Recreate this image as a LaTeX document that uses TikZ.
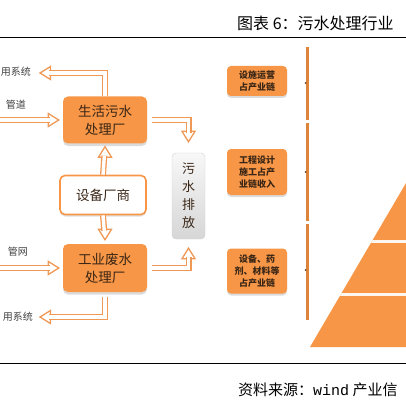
\documentclass[tikz,border=0pt]{standalone}
\usepackage{fontspec}
\setmainfont{Noto Sans CJK SC}
\newfontfamily\latinmono{Liberation Mono}
\usetikzlibrary{positioning,shadows}
\definecolor{plantorange}{RGB}{247,150,70}
\definecolor{pipeorange}{RGB}{240,152,85}
\definecolor{chainorange}{RGB}{222,132,58}
\definecolor{plantink}{RGB}{58,38,22}
\definecolor{labelink}{RGB}{64,64,64}
\tikzset{
  pics/pipehead/.style={code={
    \filldraw[draw=pipeorange,fill=white,line width=1.3pt] (0,0) -- (-10.5pt,6.5pt) -- (-10.5pt,-6.5pt) -- cycle;}}
}

\begin{document}
\begin{tikzpicture}[x=1pt, y=-1pt, every node/.style={inner sep=0pt,align=center},
  plant/.style={fill=plantorange, rounded corners=5pt, minimum width=84pt, minimum height=47pt,
    text=plantink, font=\fontsize{13.5}{18}\selectfont,
    drop shadow={shadow xshift=0pt,shadow yshift=-2.5pt,fill=black!40,opacity=.35}},
  chainbox/.style={fill=plantorange, rounded corners=4pt, minimum width=60pt,
    text=plantink, font=\fontsize{9}{12.3}\selectfont\bfseries,
    drop shadow={shadow xshift=0pt,shadow yshift=-2pt,fill=black!40,opacity=.35}},
  pipe/.style={draw=pipeorange, double=white, double distance=3.4pt, line width=1.3pt, shorten >=9pt},
  sidelabel/.style={anchor=east, text=labelink, font=\fontsize{10}{12}\selectfont}]
\useasboundingbox (0,0) rectangle (406,406);

% header and footer
\node[anchor=west, font=\fontsize{16}{17}\selectfont] (title) at (237,23) {图表 6：污水处理行业};
\draw[line width=0.9pt] (0,37) -- (406,37);
\draw[line width=0.9pt] (0,363) -- (406,363);
\node[anchor=west, font=\fontsize{15}{16}\selectfont] (source) at (238,390) {资料来源：{\latinmono wind} 产业信};

% plants, supplier and discharge
\node[plant] (lifeplant) at (105,120) {生活污水\\处理厂};
\node[plant, minimum height=48pt] (indplant) at (105,268) {工业废水\\处理厂};
\node[fill=white, draw=plantorange, line width=1.6pt, rounded corners=5pt, minimum width=86pt, minimum height=39pt,
  text=plantink, font=\fontsize{13.5}{18}\selectfont,
  drop shadow={shadow xshift=0pt,shadow yshift=-2pt,fill=black!40,opacity=.3}] (supplier) at (103,195) {设备厂商};
\node[top color=gray!6, bottom color=gray!32, draw=gray!35, rounded corners=4pt, minimum width=33pt, minimum height=86pt,
  text=plantink, font=\fontsize{13}{18}\selectfont] (discharge) at (188.5,196) {污\\水\\排\\放};

% left side labels
\node[sidelabel] (reuselabel) at (31,72) {用系统};
\node[sidelabel] (sewerlabel) at (26,105) {管道};
\node[sidelabel] (netlabel) at (28,252) {管网};
\node[sidelabel] (reuselabelb) at (33,317) {用系统};

% free ends of the pipes
\coordinate (reusetop) at (40,73);
\coordinate (reusebot) at (40,317);
\coordinate (sewerstart) at (-6,120);
\coordinate (netstart) at (-6,268);
\coordinate (sewerin) at ([xshift=-4pt]lifeplant.west);
\coordinate (netin) at ([xshift=-4pt]indplant.west);
\coordinate (lifefeed) at ([yshift=-3pt]lifeplant.south);
\coordinate (indfeed) at ([yshift=4pt]indplant.north);
\coordinate (dischargein) at ([yshift=11pt]discharge.north);
\coordinate (dischargeout) at ([yshift=-9pt]discharge.south);

% arrow heads first, pipes over them
\pic[rotate=180] at (reusetop) {pipehead};
\pic[rotate=180] at (reusebot) {pipehead};
\pic at (sewerin) {pipehead};
\pic at (netin) {pipehead};
\pic[rotate=90] at (lifefeed) {pipehead};
\pic[rotate=-90] at (indfeed) {pipehead};
\pic[rotate=-90] at (dischargein) {pipehead};
\pic[rotate=90] at (dischargeout) {pipehead};

\draw[pipe] (lifeplant.north) |- (reusetop);
\draw[pipe] (sewerstart) -- (sewerin);
\draw[pipe] ([xshift=5pt]lifeplant.east) -| (dischargein);
\draw[pipe] (supplier.north) -- (lifefeed);
\draw[pipe] (supplier.south) -- (indfeed);
\draw[pipe] (netstart) -- (netin);
\draw[pipe] ([xshift=5pt]indplant.east) -| (dischargeout);
\draw[pipe] ([yshift=-5pt]indplant.south) |- (reusebot);

% industry chain boxes
\node[chainbox, minimum height=30pt] (opbox) at (257,81) {设施运营\\占产业链};
\node[chainbox, minimum height=46pt] (engbox) at (257,172) {工程设计\\施工占产\\业链收入};
\node[chainbox, minimum height=45pt] (matbox) at (257,271) {设备、药\\剂、材料等\\占产业链};

% chain bar
\draw[chainorange, line width=3pt] (307,47) -- (307,120);
\draw[chainorange, line width=3pt] (307,123) -- (307,221);
\draw[chainorange, line width=3pt] (307,224) -- (307,320);
\fill[plantink!70!chainorange] (305.5,83) circle (1pt);
\fill[plantink!70!chainorange] (305.5,172) circle (1pt);
\fill[plantink!70!chainorange] (305.5,270) circle (1pt);

% pyramid
\begin{scope}
\clip (310,347) -- (430,142) -- (430,347) -- cycle;
\fill[plantorange] (300,130) rectangle (430,350);
\draw[white!92!plantorange, line width=2.2pt] (300,241.5) -- (430,241.5);
\draw[white!92!plantorange, line width=2.2pt] (300,294.5) -- (430,294.5);
\end{scope}
\end{tikzpicture}
\end{document}
